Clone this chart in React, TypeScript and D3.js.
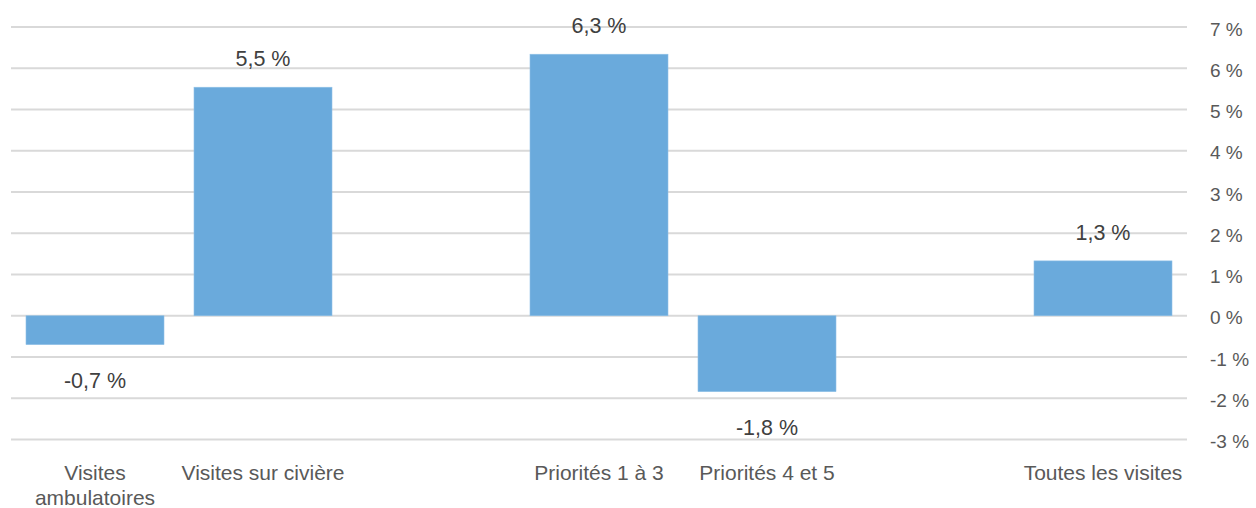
import React from "react";
import * as d3 from "d3";

const categories = ["Visites\nambulatoires", "Visites sur civière", "", "Priorités 1 à 3", "Priorités 4 et 5", " ", "Toutes les visites"];
const values: (number | null)[] = [-0.7, 5.54, null, 6.34, -1.84, null, 1.33];
const yTicks = [-3, -2, -1, 0, 1, 2, 3, 4, 5, 6, 7];

const W = 1256;
const H = 508;
const FONT = "'Liberation Sans', Arial, sans-serif";

export default function App() {
  const x = d3
    .scaleBand<string>()
    .domain(categories)
    .range([11, 1187])
    .paddingInner(0.1786)
    .paddingOuter(0.0893);
  const y = d3.scaleLinear().domain([-3, 7]).range([439.5, 27]);
  const fmt = (v: number) => v.toFixed(1).replace(".", ",") + " %";

  return (
    <div style={{ position: "fixed", left: 0, top: 0, width: W, height: H, overflow: "hidden", background: "#fff" }}>
      <svg width={W} height={H} style={{ display: "block" }} fontFamily={FONT}>
        {yTicks.map((t) => (
          <g key={t}>
            <line x1={11} x2={1187} y1={y(t)} y2={y(t)} stroke="#d9d9d9" strokeWidth={2} />
            <text x={1210} y={y(t) + 8.5} fontSize={19} fill="#595959">
              {`${t} %`}
            </text>
          </g>
        ))}
        {categories.map((c, i) => {
          const v = values[i];
          if (v === null || v === undefined) return null;
          const bx = x(c)!;
          const top = y(Math.max(0, v));
          const bot = y(Math.min(0, v));
          const cx = bx + x.bandwidth() / 2;
          return (
            <g key={i}>
              <rect x={bx} y={top} width={x.bandwidth()} height={bot - top} fill="#6aaadc" stroke="#8fc0e6" strokeWidth={0.6} />
              <text
                x={cx}
                y={v >= 0 ? top - 21 : bot + 43}
                textAnchor="middle"
                fontSize={21.5}
                fill="#404040"
              >
                {fmt(v)}
              </text>
            </g>
          );
        })}
        {categories.map((c, i) => {
          if (!c.trim()) return null;
          const cx = x(c)! + x.bandwidth() / 2;
          const lines = c.split("\n");
          return (
            <text key={"c" + i} x={cx} y={480} textAnchor="middle" fontSize={21} fill="#595959">
              {lines.map((l, j) => (
                <tspan key={j} x={cx} dy={j === 0 ? 0 : 25}>
                  {l}
                </tspan>
              ))}
            </text>
          );
        })}
      </svg>
    </div>
  );
}
